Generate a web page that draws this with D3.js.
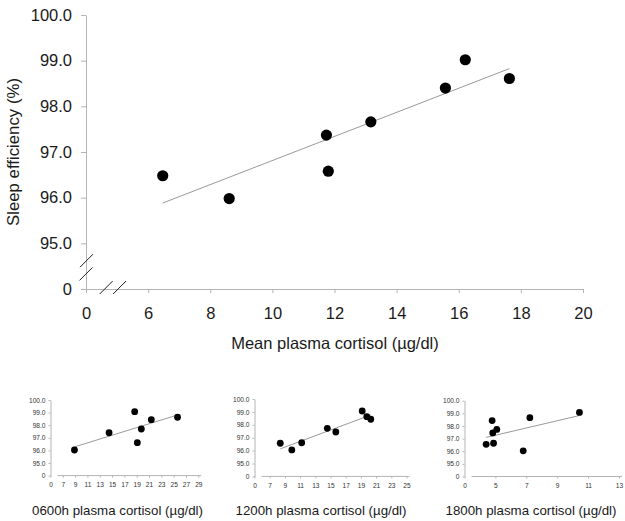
<!DOCTYPE html>
<html>
<head>
<meta charset="utf-8">
<script src="https://cdn.jsdelivr.net/npm/d3@7"></script>
<style>
  html, body { margin: 0; padding: 0; background: #fff; }
  svg { display: block; font-family: "Liberation Sans", Arial, sans-serif; }
</style>
</head>
<body>
<svg id="chart" width="625" height="521"></svg>
<script>
// ---------- Data ----------
// Main panel: mean plasma cortisol (µg/dl) vs sleep efficiency (%)
const meanCortisol = [6.47, 8.61, 11.74, 11.80, 13.17, 15.57, 16.21, 17.63];
const meanSleepEff = [96.48, 95.98, 97.37, 96.58, 97.66, 98.40, 99.02, 98.61];

// Small panels
const cort0600 = [8.89, 14.51, 18.67, 19.10, 19.75, 21.37, 25.63];
const eff0600  = [96.03, 97.40, 99.07, 96.61, 97.70, 98.44, 98.63];

const cort1200 = [8.39, 9.91, 11.21, 14.58, 15.70, 19.17, 19.78, 20.30];
const eff1200  = [96.57, 96.05, 96.61, 97.73, 97.44, 99.07, 98.63, 98.43];

const cort1800 = [4.40, 4.79, 4.83, 4.88, 5.09, 6.80, 7.23, 10.44];
const eff1800  = [96.55, 98.43, 97.45, 96.63, 97.73, 96.03, 98.66, 99.07];

// Tick values (the lowest tick of each axis is shown as "0" — broken axis)
const mainYTicks = [94, 95, 96, 97, 98, 99, 100];
const mainXTicks = [4, 6, 8, 10, 12, 14, 16, 18, 20];
const smallYTicks = [94, 95, 96, 97, 98, 99, 100];
const xTicks0600 = [5, 7, 9, 11, 13, 15, 17, 19, 21, 23, 25, 27, 29];
const xTicks1200 = [5, 7, 9, 11, 13, 15, 17, 19, 21, 23, 25];
const xTicks1800 = [3, 5, 7, 9, 11, 13];

const mainXLabel = "Mean plasma cortisol (µg/dl)";
const mainYLabel = "Sleep efficiency (%)";
const smallLabels = ["0600h plasma cortisol (µg/dl)", "1200h plasma cortisol (µg/dl)", "1800h plasma cortisol (µg/dl)"];

// ---------- Helpers ----------
const AXIS = "#b4b4b4";
const TEXT = "#1a1a1a";
const LINE = "#9a9a9a";

function fit(xs, ys) {
  const n = xs.length;
  const mx = d3.mean(xs), my = d3.mean(ys);
  let sxy = 0, sxx = 0;
  for (let i = 0; i < n; i++) { sxy += (xs[i]-mx)*(ys[i]-my); sxx += (xs[i]-mx)**2; }
  const b = sxy / sxx, a = my - b*mx;
  const x0 = d3.min(xs), x1 = d3.max(xs);
  return [[x0, a + b*x0], [x1, a + b*x1]];
}

const svg = d3.select("#chart");

// ---------- Main panel ----------
(function main() {
  const x = d3.scaleLinear().domain([4, 20]).range([86, 583]);
  const y = d3.scaleLinear().domain([94, 100]).range([289, 15]);
  const g = svg.append("g");

  const yAxis = d3.axisLeft(y).tickValues(mainYTicks)
    .tickFormat(d => d === mainYTicks[0] ? "0" : d3.format(".1f")(d))
    .tickSizeInner(5).tickSizeOuter(0).tickPadding(9);
  const xAxis = d3.axisBottom(x).tickValues(mainXTicks)
    .tickFormat(d => d === mainXTicks[0] ? "0" : d)
    .tickSizeInner(4).tickSizeOuter(0).tickPadding(14);

  const ya = g.append("g").attr("transform", `translate(${x.range()[0]},0)`).call(yAxis);
  const xa = g.append("g").attr("transform", `translate(0,${y.range()[0]})`).call(xAxis);
  [ya, xa].forEach(a => {
    a.selectAll("path, line").attr("stroke", AXIS).attr("stroke-width", 1);
    a.selectAll("text").attr("fill", TEXT).style("font-size", "16.5px");
  });

  // break marks on both axes
  const bx = x.range()[0];
  const by = y.range()[0];
  const slash = (cx, cy) => g.append("line")
    .attr("x1", cx - 6.5).attr("y1", cy + 6.5).attr("x2", cx + 6.5).attr("y2", cy - 6.5)
    .attr("stroke", "#222").attr("stroke-width", 1);
  slash(bx + 0.5, y(94.62));
  slash(bx, y(94.33));
  slash(x(4.65), by - 1.5);
  slash(x(5.08), by - 1.5);

  // trend line
  const f = fit(meanCortisol, meanSleepEff);
  g.append("line")
    .attr("x1", x(f[0][0])).attr("y1", y(f[0][1]))
    .attr("x2", x(f[1][0])).attr("y2", y(f[1][1]))
    .attr("stroke", LINE).attr("stroke-width", 1);

  g.selectAll("circle.pt").data(d3.zip(meanCortisol, meanSleepEff)).join("circle")
    .attr("class", "pt")
    .attr("cx", d => x(d[0])).attr("cy", d => y(d[1]))
    .attr("r", 5.6).attr("fill", "#000");

  g.append("text").attr("x", 335).attr("y", 348.5).attr("text-anchor", "middle")
    .attr("fill", TEXT).style("font-size", "16.5px").text(mainXLabel);
  g.append("text").attr("transform", "translate(18.5,152) rotate(-90)")
    .attr("text-anchor", "middle").attr("fill", TEXT).style("font-size", "16.8px").text(mainYLabel);
})();

// ---------- Small panels ----------
function small(xs, ys, xTicks, xRange, yRange, label, labelX) {
  const x = d3.scaleLinear().domain([xTicks[0], xTicks[xTicks.length-1]]).range(xRange);
  const y = d3.scaleLinear().domain([94, 100]).range(yRange);
  const g = svg.append("g");
  const x0 = xRange[0];
  const y0 = yRange[0];

  const yAxis = d3.axisLeft(y).tickValues(smallYTicks)
    .tickFormat(d => d === smallYTicks[0] ? "0" : d3.format(".1f")(d))
    .tickSizeInner(2).tickSizeOuter(0).tickPadding(3);
  const xAxis = d3.axisBottom(x).tickValues(xTicks)
    .tickFormat(d => d === xTicks[0] ? "0" : d)
    .tickSizeInner(2).tickSizeOuter(0).tickPadding(5);

  const ya = g.append("g").attr("transform", `translate(${x0},0)`).call(yAxis);
  const xa = g.append("g").attr("transform", `translate(0,${y0})`).call(xAxis);
  xa.select(".domain").remove();
  xa.append("line").attr("x1", x0 + 7).attr("x2", xRange[1] + 3).attr("y1", 0).attr("y2", 0);
  [ya, xa].forEach(a => {
    a.selectAll("path, line").attr("stroke", AXIS).attr("stroke-width", 1);
    a.selectAll("text").attr("fill", "#333").style("font-size", "6.6px");
  });

  const f = fit(xs, ys);
  g.append("line")
    .attr("x1", x(f[0][0])).attr("y1", y(f[0][1]))
    .attr("x2", x(f[1][0])).attr("y2", y(f[1][1]))
    .attr("stroke", LINE).attr("stroke-width", 1);

  g.selectAll("circle").data(d3.zip(xs, ys)).join("circle")
    .attr("cx", d => x(d[0])).attr("cy", d => y(d[1]))
    .attr("r", 3.4).attr("fill", "#000");

  g.append("text").attr("x", labelX).attr("y", 515).attr("text-anchor", "middle")
    .attr("fill", TEXT).style("font-size", "13.3px").text(label);
}

small(cort0600, eff0600, xTicks0600, [50.5, 198.3], [475.6, 400], smallLabels[0], 117.5);
small(cort1200, eff1200, xTicks1200, [254.5, 406.5], [476.4, 399], smallLabels[1], 321);
small(cort1800, eff1800, xTicks1800, [464.5, 619], [476.5, 400.7], smallLabels[2], 531);
</script>
</body>
</html>
